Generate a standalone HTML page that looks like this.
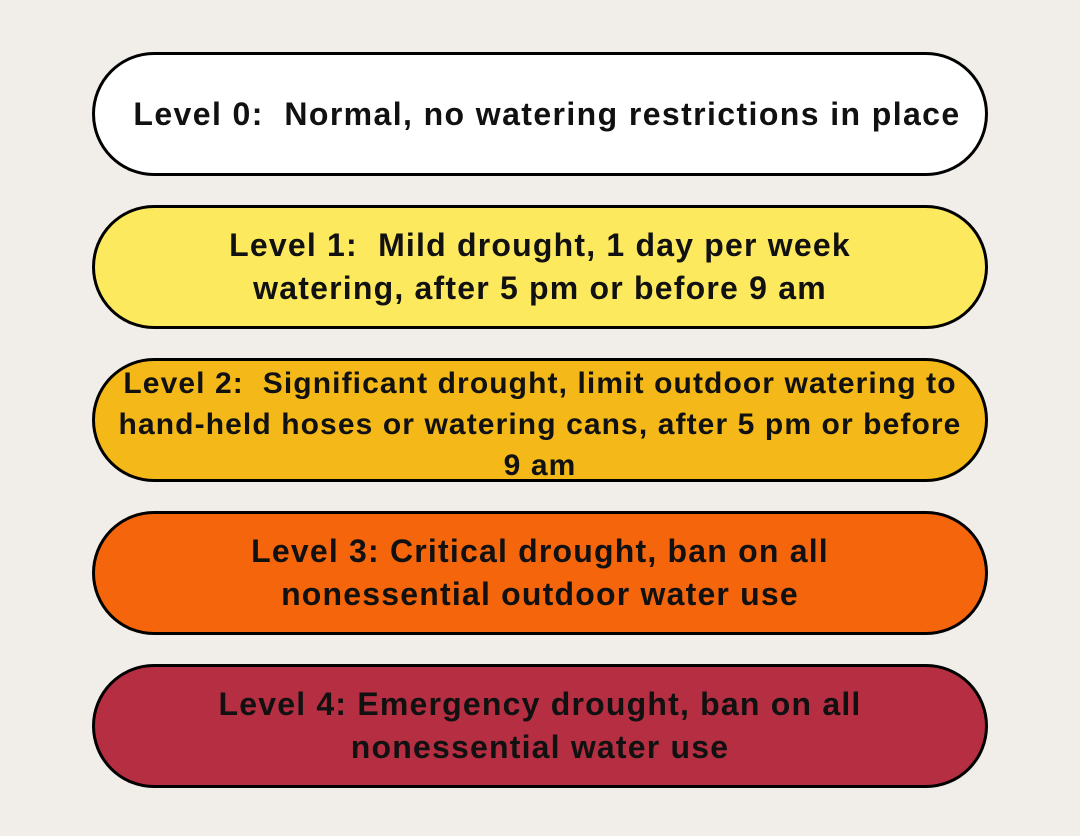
<!DOCTYPE html>
<html><head><style>
html,body{margin:0;padding:0;}
body{width:1080px;height:836px;background:#f1eeea;position:relative;overflow:hidden;font-family:"Liberation Sans",sans-serif;}
.p{position:absolute;left:92px;width:890px;height:118px;border:3px solid #000;border-radius:62px;display:flex;align-items:center;justify-content:center;text-align:center;font-weight:bold;font-size:32px;color:#111;line-height:43px;letter-spacing:1.2px;white-space:nowrap;}
</style></head><body>
<div class="p" style="top:52px;background:#fff;padding-left:14px;box-sizing:content-box;width:876px;letter-spacing:1.4px">Level 0:&nbsp; Normal, no watering restrictions in place</div>
<div class="p" style="top:205px;background:#fde95e">Level 1:&nbsp; Mild drought, 1 day per week<br>watering, after 5 pm or before 9 am</div>
<div class="p" style="top:358px;background:#f4b918;line-height:41px;font-size:30px;letter-spacing:1.1px;padding-top:8px;height:110px">Level 2:&nbsp; Significant drought, limit outdoor watering to<br>hand-held hoses or watering cans, after 5 pm or before<br>9 am</div>
<div class="p" style="top:511px;background:#f4650c">Level 3: Critical drought, ban on all<br>nonessential outdoor water use</div>
<div class="p" style="top:664px;background:#b52e42">Level 4: Emergency drought, ban on all<br>nonessential water use</div>
</body></html>
